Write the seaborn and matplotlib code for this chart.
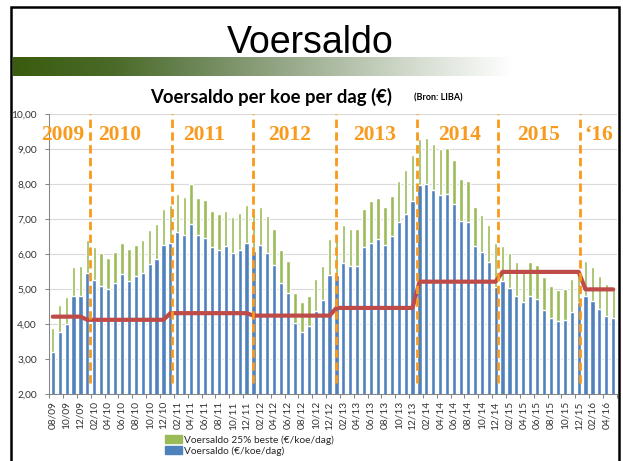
import numpy as np
import pandas as pd
import seaborn as sns
import matplotlib.pyplot as plt
import matplotlib.ticker as ticker
from matplotlib.patches import Patch, Rectangle
from matplotlib.colors import LinearSegmentedColormap

# months 08/09 .. 05/16
months = pd.date_range('2009-08-01', periods=82, freq='MS')
month_labels = list(months.strftime('%m/%y'))

# voersaldo (EUR/koe/dag), gemiddeld bedrijf
voersaldo = [3.22, 3.78, 4.02, 4.80, 4.80,
             5.48, 5.26, 5.09, 5.00, 5.17, 5.43, 5.23, 5.37, 5.48, 5.72, 5.86, 6.26,
             6.33, 6.63, 6.55, 6.88, 6.55, 6.47, 6.21, 6.13, 6.23, 6.04, 6.13, 6.34,
             6.10, 6.28, 6.04, 5.70, 5.18, 4.91, 4.03, 3.79, 3.96, 4.37, 4.70, 5.40,
             5.40, 5.75, 5.66, 5.66, 6.20, 6.34, 6.45, 6.28, 6.52, 6.92, 7.16, 7.54,
             7.97, 8.02, 7.85, 7.71, 7.74, 7.44, 6.96, 6.94, 6.25, 6.06, 5.77, 5.08,
             5.25, 5.04, 4.82, 4.63, 4.82, 4.73, 4.41, 4.19, 4.11, 4.13, 4.36, 4.65,
             4.81, 4.68, 4.44, 4.25, 4.17]

# voersaldo 25% beste bedrijven
voersaldo_beste = [3.90, 4.55, 4.78, 5.65, 5.67,
                   6.40, 6.22, 6.03, 5.90, 6.07, 6.33, 6.15, 6.28, 6.42, 6.69, 6.87, 7.29,
                   7.40, 7.74, 7.65, 8.00, 7.60, 7.56, 7.23, 7.16, 7.25, 7.06, 7.18, 7.42,
                   7.16, 7.35, 7.11, 6.73, 6.13, 5.82, 4.89, 4.63, 4.82, 5.29, 5.68, 6.44,
                   6.49, 6.85, 6.74, 6.74, 7.31, 7.52, 7.61, 7.36, 7.66, 8.11, 8.42, 8.83,
                   9.30, 9.33, 9.16, 9.00, 9.03, 8.69, 8.17, 8.11, 7.35, 7.14, 6.83, 6.32,
                   6.25, 6.04, 5.78, 5.54, 5.78, 5.69, 5.34, 5.10, 4.99, 5.02, 5.29, 5.50,
                   5.80, 5.65, 5.39, 5.16, 5.08]

# yearly level (red line)
jaren = [2009, 2010, 2011, 2012, 2013, 2014, 2015, 2016]
jaar_gemiddeld = [4.22, 4.13, 4.32, 4.25, 4.47, 5.22, 5.50, 5.00]
jaar_labels = ['2009', '2010', '2011', '2012', '2013', '2014', '2015', '\u201816']

# overlay placement (category units)
jaar_label_x = [1.47, 9.71, 21.85, 34.28, 46.49, 58.84, 70.26, 78.93]
scheiding_x = [5.35, 17.18, 28.97, 40.88, 52.6, 64.38, 76.18]

df = pd.DataFrame({'maand': month_labels, 'voersaldo': voersaldo,
                   'beste': voersaldo_beste, 'jaar': months.year})
df['gemiddeld'] = df['jaar'].map(dict(zip(jaren, jaar_gemiddeld)))
df['pos'] = np.arange(len(df))

sns.set_theme(style='white')
plt.rcParams['font.family'] = ['Lato', 'DejaVu Sans']

green = '#9BBB59'
blue = '#4F81BD'
orange = '#F99A1C'
grey = '#868686'

fig = plt.figure(figsize=(6.23, 4.61), dpi=100)
W, H = 623, 461
ax = fig.add_axes([49.3 / W, 1 - 394.3 / H, 567.4 / W, 279.8 / H])

ax.yaxis.grid(True, color='#D9D9D9', lw=0.8)
ax.set_axisbelow(True)

sns.barplot(data=df, x='maand', y='beste', color=green, width=0.5,
            saturation=1, ax=ax)
sns.barplot(data=df, x='maand', y='voersaldo', color=blue, width=0.6,
            saturation=1, ax=ax)
sns.lineplot(data=df, x='pos', y='gemiddeld', color='#BE4B48', lw=3,
             ax=ax, zorder=3)

ax.vlines(scheiding_x, 2.32, 10, colors=orange, linestyles=(0, (3, 1.6)),
          lw=2, zorder=4)
for xp, txt in zip(jaar_label_x, jaar_labels):
    ax.text(xp, 9.4, txt, ha='center', va='center', color=orange,
            fontsize=15.5, fontweight='bold', family='Liberation Serif', zorder=5)

ax.set_xlim(-0.5, len(df) - 0.5)
ax.set_ylim(2, 10)
ax.set_yticks(np.arange(2, 10.01, 1))
ax.yaxis.set_major_formatter(ticker.FuncFormatter(lambda v, p: f'{v:.2f}'.replace('.', ',')))
ax.set_xticks(range(0, len(df), 2))
ax.set_xticklabels(month_labels[::2], rotation=90)
ax.set_xticks(np.arange(-0.5, len(df), 2), minor=True)
ax.set_xlabel('')
ax.set_ylabel('')

ax.tick_params(axis='y', length=3, width=0.75, color=grey, labelsize=7.3,
               labelcolor='#333333', pad=6, left=True)
ax.tick_params(axis='x', which='major', length=0, labelsize=7.3,
               labelcolor='#333333', pad=5)
ax.tick_params(axis='x', which='minor', length=3, width=0.75, color=grey,
               bottom=True, direction='out')

for s in ['top', 'right']:
    ax.spines[s].set_visible(False)
for s in ['left', 'bottom']:
    ax.spines[s].set_color(grey)
    ax.spines[s].set_linewidth(0.75)

# slide header
cmap = LinearSegmentedColormap.from_list('kop', [(0, '#3A5C0E'), (0.2, '#4A6A28'),
                                                (0.4, '#748C60'), (0.6, '#A3B397'),
                                                (0.8, '#D3DBCE'), (1, '#FFFFFF')])
ax_g = fig.add_axes([12.5 / W, 1 - 76 / H, 500 / W, 19 / H])
ax_g.imshow(np.linspace(0, 1, 256)[None, :], aspect='auto', cmap=cmap)
ax_g.axis('off')

fig.text(310 / W, 1 - 43 / H, 'Voersaldo', ha='center', va='center',
         fontsize=27, family='Liberation Sans', color='black')
fig.text(271.5 / W, 1 - 97 / H, 'Voersaldo per koe per dag (\u20ac)', ha='center',
         va='center', fontsize=13.3, fontweight='bold', color='black')
fig.text(438 / W, 1 - 98 / H, '(Bron: LIBA)', ha='center', va='center',
         fontsize=6.5, fontweight='bold', color='black')

fig.patches.append(Rectangle((11.2 / W, -0.05), (618.7 - 11.2) / W, 1.05 - 7 / H,
                             transform=fig.transFigure, fill=False,
                             ec='black', lw=1.8, zorder=10))

handles = [Patch(color=green), Patch(color=blue)]
fig.legend(handles, ['Voersaldo 25% beste (\u20ac/koe/dag)', 'Voersaldo (\u20ac/koe/dag)'],
           loc='upper left', bbox_to_anchor=(165 / W, 1 - 435 / H), frameon=False,
           fontsize=7.3, handlelength=1.7, handleheight=0.8, handletextpad=0.2,
           labelspacing=0.15, borderpad=0, borderaxespad=0)

fig.savefig('out.png', dpi=100)
